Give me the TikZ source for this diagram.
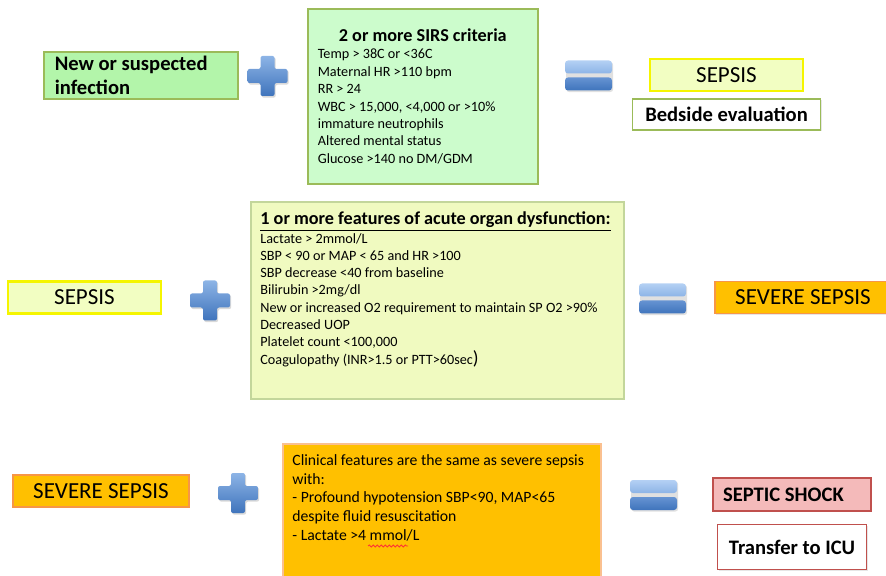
\documentclass[tikz,border=0pt]{standalone}
\usepackage{fontspec}
\setmainfont{Carlito}
\usetikzlibrary{
    %arrows,
    %calc,
    decorations.pathmorphing,
    positioning,
    shadows,
    %shapes,
}

\definecolor{infgreen}{HTML}{B3F5AA}
\definecolor{sirsgreen}{HTML}{CCFCCC}
\definecolor{olivedraw}{HTML}{9BBB59}
\definecolor{sepsisfill}{HTML}{F2FEC2}
\definecolor{sepsisdraw}{HTML}{F5F500}
\definecolor{organfill}{HTML}{F0FAC0}
\definecolor{organdraw}{HTML}{C3D69B}
\definecolor{severefill}{HTML}{FFC000}
\definecolor{severedraw}{HTML}{F79646}
\definecolor{clinicdraw}{HTML}{FAC090}
\definecolor{shockfill}{HTML}{F4BABA}
\definecolor{shockdraw}{HTML}{C0504D}
\definecolor{signpale}{HTML}{B4D0F4}
\definecolor{signlight}{HTML}{8DB4E6}
\definecolor{signmid}{HTML}{6693D2}
\definecolor{signdark}{HTML}{3F74BC}

\begin{document}
\begin{tikzpicture}[x=0.5pt, y=-0.5pt,
        box/.style={rectangle, thick, inner sep=0pt, drop shadow={shadow xshift=0.7pt, shadow yshift=-0.7pt, opacity=0.2}},
        result/.style={box, minimum width=76.5pt, minimum height=16pt, font=\fontsize{11.5}{12}\selectfont},
        sepsisbox/.style={result, fill=sepsisfill, draw=sepsisdraw, line width=1.3pt},
        severebox/.style={result, minimum width=88pt, fill=severefill, draw=severedraw},
        notebox/.style={box, fill=white, font=\fontsize{10.3}{12}\selectfont\bfseries},
        listbox/.style={box, anchor=north west},
        listtext/.style={anchor=north west, inner sep=0pt, align=flush left},
        plussign/.pic={
            \fill[black, opacity=0.15, rounded corners=1pt, xshift=0.6pt, yshift=-0.8pt]
                (-7,-20) -- (7,-20) -- (7,-7) -- (20,-7) -- (20,7) -- (7,7) -- (7,20) -- (-7,20) -- (-7,7) -- (-20,7) -- (-20,-7) -- (-7,-7) -- cycle;
            \shade[top color=signlight, bottom color=signdark, rounded corners=1pt]
                (-7,-20) -- (7,-20) -- (7,-7) -- (20,-7) -- (20,7) -- (7,7) -- (7,20) -- (-7,20) -- (-7,7) -- (-20,7) -- (-20,-7) -- (-7,-7) -- cycle;
        },
        equalsign/.pic={
            \fill[black, opacity=0.12, rounded corners=1.5pt, xshift=0.6pt, yshift=-0.8pt] (-23.5,-15) rectangle (23.5,15);
            \shade[top color=signpale, bottom color=signlight, rounded corners=1.5pt] (-23.5,-15) rectangle (23.5,-2);
            \shade[top color=signmid, bottom color=signdark, rounded corners=1.5pt] (-23.5,2) rectangle (23.5,15);
        },
        ]
        \useasboundingbox (0,0) rectangle (886,576);

        % first row
        \node[listbox, fill=infgreen, draw=olivedraw, minimum height=23.5pt, text width=86pt, inner xsep=5.5pt, align=flush left,
              font=\fontsize{10.3}{12}\selectfont\bfseries] (infect) at (43,51) {New or suspected\\infection};
        \pic (plusA) at (267.5,76) {plussign};
        \node[listbox, fill=sirsgreen, draw=olivedraw, minimum height=87.5pt, text width=105pt, inner xsep=5pt, align=flush left,
              font=\fontsize{7.1}{8.7}\selectfont] (sirs) at (307,8)
              {\makebox[\hsize]{\fontsize{9.1}{9}\selectfont\bfseries 2 or more SIRS criteria}\\
               Temp > 38C or <36C\\
               Maternal HR >110 bpm\\
               RR > 24\\
               WBC > 15,000, <4,000 or >10\%\\
               immature neutrophils\\
               Altered mental status\\
               Glucose >140 no DM/GDM};
        \pic (eqA) at (588.5,75.5) {equalsign};
        \node[sepsisbox] (sepsisA) at (726.5,75) {SEPSIS};
        \node[notebox, draw=olivedraw, minimum width=94pt, minimum height=15.5pt, below=3pt of sepsisA] (bedside) {Bedside evaluation};

        % second row
        \node[sepsisbox] (sepsisB) at (84.5,297.5) {SEPSIS};
        \pic (plusB) at (210,300.5) {plussign};
        \node[listbox, fill=organfill, draw=organdraw, minimum width=186.5pt, minimum height=98.5pt] (organ) at (250,201) {};
        \node[listtext, font=\fontsize{7.1}{8.65}\selectfont] (organtext) at (260,211)
              {{\fontsize{9.1}{9}\selectfont\bfseries\underline{1 or more features of acute organ dysfunction:}}\\[0.8pt]
               Lactate > 2mmol/L\\
               SBP < 90 or MAP < 65 and HR >100\\
               SBP decrease <40 from baseline\\
               Bilirubin >2mg/dl\\
               New or increased O2 requirement to maintain SP O2 >90\%\\
               Decreased UOP\\
               Platelet count <100,000\\
               Coagulopathy (INR>1.5 or PTT>60sec{\fontsize{9.5}{8}\selectfont)}};
        \pic (eqB) at (662.5,298.5) {equalsign};
        \node[severebox] (severeA) at (803,297.5) {SEVERE SEPSIS};

        % third row
        \node[severebox] (severeB) at (101,491) {SEVERE SEPSIS};
        \pic (plusC) at (238,493) {plussign};
        \node[listbox, fill=severefill, draw=clinicdraw, minimum width=159pt, minimum height=74pt] (clinic) at (282,443) {};
        \node[listtext, font=\fontsize{7.85}{9.35}\selectfont] (clinictext) at (292,454)
              {Clinical features are the same as severe sepsis\\
               with:\\
               - Profound hypotension SBP<90, MAP<65\\
               despite fluid resuscitation\\
               - Lactate >4 mmol/L};
        \draw[red!80, line width=0.4pt, decorate, decoration={snake, amplitude=0.5pt, segment length=2pt}] (368,546) -- (408,546);
        \pic (eqC) at (653.5,495) {equalsign};
        \node[notebox, fill=shockfill, draw=shockdraw, minimum height=16.5pt, text width=69pt, inner xsep=5pt, align=flush left] (shock) at (792,494.5) {SEPTIC SHOCK};
        \node[notebox, draw=shockdraw, minimum width=74.5pt, minimum height=22.5pt, below=6pt of shock] (transfer) {Transfer to ICU};
    \end{tikzpicture}
\end{document}
